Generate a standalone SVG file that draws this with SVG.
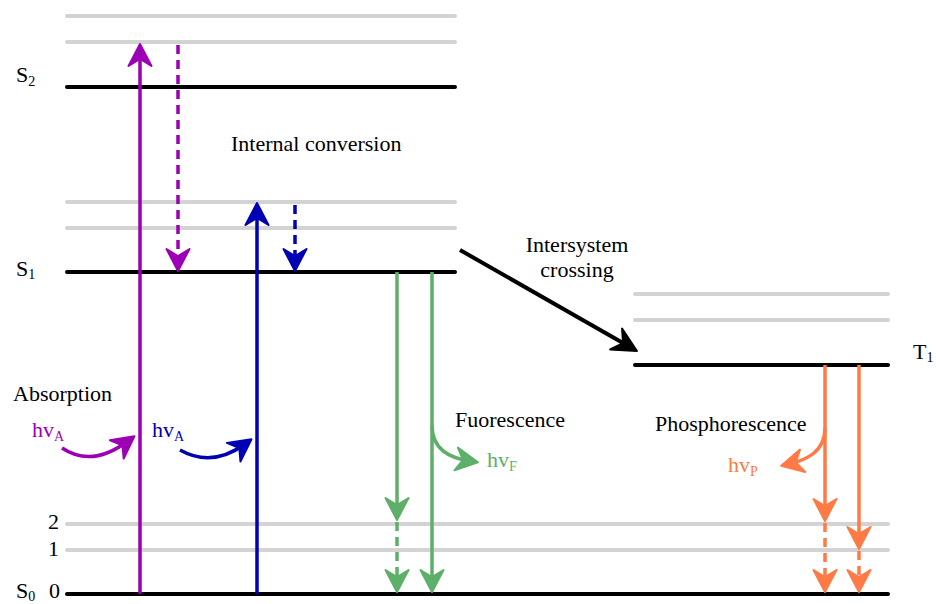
<svg xmlns="http://www.w3.org/2000/svg" width="936" height="604" viewBox="0 0 936 604">
<style>
text{font-family:"Liberation Serif","Times New Roman",serif;font-size:22px;fill:#000}
.sub{font-size:14px}
.lvl{stroke:#000;stroke-width:4;stroke-linecap:round;fill:none}
.vib{stroke:#d3d3d3;stroke-width:4;stroke-linecap:round;fill:none}
.a{stroke-width:3.5;fill:none}
.d{stroke-dasharray:9 6}
.pu{stroke:#9c00b4}.bl{stroke:#0000b4}.gr{stroke:#5daf69}.or{stroke:#ff7a45}.bk{stroke:#000;stroke-width:4}
</style>
<defs>
<marker id="mpu" markerUnits="userSpaceOnUse" viewBox="-17 -15 30 30" markerWidth="30" markerHeight="30" refX="0" refY="0" orient="auto"><path d="M8,0 L-14,-11.5 L-7,0 L-14,11.5 Z" fill="#9c00b4" stroke="#9c00b4" stroke-width="2" stroke-linejoin="round"/></marker>
<marker id="mbl" markerUnits="userSpaceOnUse" viewBox="-17 -15 30 30" markerWidth="30" markerHeight="30" refX="0" refY="0" orient="auto"><path d="M8,0 L-14,-11.5 L-7,0 L-14,11.5 Z" fill="#0000b4" stroke="#0000b4" stroke-width="2" stroke-linejoin="round"/></marker>
<marker id="mgr" markerUnits="userSpaceOnUse" viewBox="-17 -15 30 30" markerWidth="30" markerHeight="30" refX="0" refY="0" orient="auto"><path d="M8,0 L-14,-11.5 L-7,0 L-14,11.5 Z" fill="#5daf69" stroke="#5daf69" stroke-width="2" stroke-linejoin="round"/></marker>
<marker id="mor" markerUnits="userSpaceOnUse" viewBox="-17 -15 30 30" markerWidth="30" markerHeight="30" refX="0" refY="0" orient="auto"><path d="M8,0 L-14,-11.5 L-7,0 L-14,11.5 Z" fill="#ff7a45" stroke="#ff7a45" stroke-width="2" stroke-linejoin="round"/></marker>
<marker id="mbk" markerUnits="userSpaceOnUse" viewBox="-18 -15 30 30" markerWidth="30" markerHeight="30" refX="0" refY="0" orient="auto"><path d="M8,0 L-16,-12 L-8,0 L-16,12 Z" fill="#000" stroke="#000" stroke-width="2" stroke-linejoin="round"/></marker>
</defs>

<g id="S2">
<line class="vib" x1="67" y1="16" x2="455" y2="16"/>
<line class="vib" x1="67" y1="42" x2="455" y2="42"/>
<line class="lvl" x1="67" y1="87" x2="455" y2="87"/>
<text x="16" y="82">S<tspan class="sub" dy="4">2</tspan></text>
</g>
<g id="S1">
<line class="vib" x1="67" y1="202" x2="455" y2="202"/>
<line class="vib" x1="67" y1="228" x2="455" y2="228"/>
<line class="lvl" x1="67" y1="272" x2="455" y2="272"/>
<text x="16" y="276">S<tspan class="sub" dy="3">1</tspan></text>
</g>
<g id="T1">
<line class="vib" x1="635" y1="294" x2="888" y2="294"/>
<line class="vib" x1="635" y1="320" x2="888" y2="320"/>
<line class="lvl" x1="635" y1="365" x2="888" y2="365"/>
<text x="913" y="359">T<tspan class="sub" dy="3">1</tspan></text>
</g>
<g id="S0">
<line class="vib" x1="67" y1="524" x2="888" y2="524"/>
<line class="vib" x1="67" y1="550" x2="888" y2="550"/>
<line class="lvl" x1="67" y1="594" x2="888" y2="594"/>
<text x="16" y="598">S<tspan class="sub" dy="3">0</tspan></text>
<text x="48" y="529">2</text>
<text x="48" y="556">1</text>
<text x="49" y="598">0</text>
</g>

<g id="connectors">
<line class="a pu" x1="140" y1="594" x2="140" y2="52" marker-end="url(#mpu)"/>
<line class="a pu d" x1="178" y1="45" x2="178" y2="263" marker-end="url(#mpu)"/>
<line class="a bl" x1="257" y1="594" x2="257" y2="211" marker-end="url(#mbl)"/>
<line class="a bl d" x1="295" y1="205" x2="295" y2="263" marker-end="url(#mbl)"/>
<line class="a gr" x1="397" y1="272" x2="397" y2="512" marker-end="url(#mgr)"/>
<line class="a gr d" x1="397" y1="522" x2="397" y2="584" marker-end="url(#mgr)"/>
<line class="a gr" x1="432" y1="272" x2="432" y2="584" marker-end="url(#mgr)"/>
<line class="a or" x1="825" y1="365" x2="825" y2="513" marker-end="url(#mor)"/>
<line class="a or d" x1="825" y1="523" x2="825" y2="584" marker-end="url(#mor)"/>
<line class="a or" x1="859" y1="365" x2="859" y2="541" marker-end="url(#mor)"/>
<line class="a or d" x1="859" y1="551" x2="859" y2="584" marker-end="url(#mor)"/>
<line class="a bk" x1="460" y1="250" x2="630" y2="347" marker-end="url(#mbk)"/>
<path class="a pu" d="M62,448 Q92,468 128,441" marker-end="url(#mpu)"/>
<path class="a bl" d="M180,450 Q212,468 245,444" marker-end="url(#mbl)"/>
<path class="a gr" d="M432,425 C432,450 450,458 470,461" marker-end="url(#mgr)"/>
<path class="a or" d="M825,428 C825,452 806,460 789,464" marker-end="url(#mor)"/>
</g>

<g id="labels">
<text x="231" y="151">Internal conversion</text>
<text x="577" y="252" text-anchor="middle">Intersystem</text>
<text x="577" y="277" text-anchor="middle">crossing</text>
<text x="13" y="401">Absorption</text>
<text x="455" y="427">Fuorescence</text>
<text x="655" y="431">Phosphorescence</text>
<text x="32" y="437" style="fill:#9c00b4">hv<tspan class="sub" dy="4">A</tspan></text>
<text x="152" y="437" style="fill:#0000b4">hv<tspan class="sub" dy="4">A</tspan></text>
<text x="487" y="467" style="fill:#5daf69">hv<tspan class="sub" dy="4">F</tspan></text>
<text x="728" y="472" style="fill:#ff7a45">hv<tspan class="sub" dy="4">P</tspan></text>
</g>
</svg>
